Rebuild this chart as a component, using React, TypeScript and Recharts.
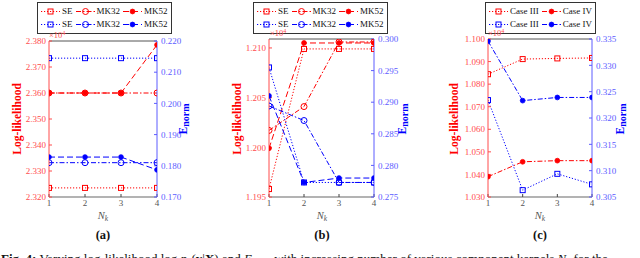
import React from "react";
import { ComposedChart, Line, XAxis, YAxis, ReferenceLine, Legend } from "recharts";

const SERIF = "'Liberation Serif', 'Times New Roman', serif";
const RED = "#ff0000";
const BLUE = "#0000ff";
const RED_AX = "#ff4d4d";
const BLUE_AX = "#5c5cff";

const nk = [1, 2, 3, 4];

// (a)
const aLikSE = [2.3235, 2.3235, 2.3235, 2.3235];
const aLikMK32 = [2.36, 2.36, 2.36, 2.36];
const aLikMK52 = [2.36, 2.36, 2.36, 2.3785];
const aEnSE = [0.2145, 0.2145, 0.2145, 0.2145];
const aEnMK32 = [0.181, 0.181, 0.181, 0.181];
const aEnMK52 = [0.1828, 0.1828, 0.1828, 0.1787];
const aLikTicks = [2.32, 2.33, 2.34, 2.35, 2.36, 2.37, 2.38];
const aEnTicks = [0.17, 0.18, 0.19, 0.2, 0.21, 0.22];

// (b)
const bLikSE = [1.1958, 1.2099, 1.2099, 1.2099];
const bLikMK32 = [1.2017, 1.2041, 1.2106, 1.2106];
const bLikMK52 = [1.1999, 1.2105, 1.2105, 1.2105];
const bEnSE = [0.2955, 0.2773, 0.2773, 0.2773];
const bEnMK32 = [0.2894, 0.2871, 0.2773, 0.2773];
const bEnMK52 = [0.291, 0.2773, 0.278, 0.278];
const bLikTicks = [1.195, 1.2, 1.205, 1.21];
const bEnTicks = [0.275, 0.28, 0.285, 0.29, 0.295, 0.3];

// (c)
const cLikIII = [1.0844, 1.0911, 1.0914, 1.0916];
const cLikIV = [1.039, 1.0456, 1.0461, 1.0461];
const cEnIII = [0.3234, 0.3063, 0.3094, 0.3074];
const cEnIV = [0.3346, 0.3233, 0.3239, 0.3239];
const cLikTicks = [1.03, 1.04, 1.05, 1.06, 1.07, 1.08, 1.09, 1.1];
const cEnTicks = [0.305, 0.31, 0.315, 0.32, 0.325, 0.33, 0.335];

type Marker = "square" | "circle" | "disc";
type Series = { name: string; values: number[]; side: "left" | "right"; dash: string; marker: Marker };

const DOT = "1.2 1.8";
const DASHDOT = "5 2 1.5 2";
const DASH = "6 3";

const colorOf = (s: Series) => (s.side === "left" ? RED : BLUE);

function markerEl(m: Marker, cx: number, cy: number, color: string, key?: any) {
  if (m === "square")
    return <rect key={key} x={cx - 2.5} y={cy - 2.5} width={5} height={5} fill="none" stroke={color} strokeWidth={1} />;
  if (m === "circle")
    return <circle key={key} cx={cx} cy={cy} r={3} fill="none" stroke={color} strokeWidth={1} />;
  return <circle key={key} cx={cx} cy={cy} r={2.4} fill={color} stroke={color} strokeWidth={0.8} />;
}

const makeDot = (m: Marker, color: string) => (p: any) => {
  if (p.cx == null || p.cy == null) return <g key={p.index} />;
  return markerEl(m, p.cx, p.cy, color, p.index);
};

function LegendBox({ series }: { series: Series[] }) {
  const rows = [series.filter((s) => s.side === "left"), series.filter((s) => s.side === "right")];
  return (
    <div
      style={{
        border: "0.8px solid #333",
        background: "#fff",
        padding: "2px 3px",
        fontFamily: SERIF,
        fontSize: 9,
        lineHeight: "13px",
        display: "inline-block",
      }}
    >
      {rows.map((row, ri) => (
        <div key={ri} style={{ display: "flex", alignItems: "center", whiteSpace: "nowrap" }}>
          {row.map((s, i) => (
            <span key={i} style={{ display: "inline-flex", alignItems: "center", marginRight: i < row.length - 1 ? 3 : 0 }}>
              <svg width={19} height={9} style={{ display: "block" }}>
                <line x1={0} y1={4.5} x2={19} y2={4.5} stroke={colorOf(s)} strokeWidth={1} strokeDasharray={s.dash} />
                {markerEl(s.marker, 9.5, 4.5, colorOf(s))}
              </svg>
              <span style={{ marginLeft: 2, color: "#111" }}>{s.name}</span>
            </span>
          ))}
        </div>
      ))}
    </div>
  );
}

type PanelProps = {
  x: number;
  width: number;
  top: number;
  leftW: number;
  series: Series[];
  lDomain: [number, number];
  lTicks: number[];
  rDomain: [number, number];
  rTicks: number[];
  legendLeft: number;
};

function Panel({ x, width, top, leftW, series, lDomain, lTicks, rDomain, rTicks, legendLeft }: PanelProps) {
  const data = nk.map((n, i) => {
    const row: any = { nk: n };
    series.forEach((s, j) => (row["s" + j] = s.values[i]));
    return row;
  });
  const tickFont = { fontSize: 9, fontFamily: SERIF };
  return (
    <div style={{ position: "absolute", left: x, top: 0 }}>
      <ComposedChart width={width} height={230} data={data} margin={{ top, right: 0, left: 0, bottom: 13 }}>
        <XAxis
          dataKey="nk"
          type="number"
          domain={[1, 4]}
          ticks={nk}
          allowDataOverflow
          height={20}
          axisLine={{ stroke: "#9a9a9a", strokeWidth: 1.6 }}
          tickLine={{ stroke: "#444" }}
          tickSize={-3}
          tickMargin={6}
          tick={{ ...tickFont, fill: "#555" }}
        />
        <YAxis
          yAxisId="left"
          type="number"
          domain={lDomain}
          ticks={lTicks}
          allowDataOverflow
          width={leftW}
          axisLine={{ stroke: RED_AX }}
          tickLine={{ stroke: RED_AX }}
          tickSize={-3}
          tickMargin={6}
          tick={{ ...tickFont, fill: RED_AX }}
          tickFormatter={(v: number) => v.toFixed(3)}
        />
        <YAxis
          yAxisId="right"
          orientation="right"
          type="number"
          domain={rDomain}
          ticks={rTicks}
          allowDataOverflow
          width={45}
          axisLine={{ stroke: BLUE_AX }}
          tickLine={{ stroke: BLUE_AX }}
          tickSize={-3}
          tickMargin={7}
          tick={{ ...tickFont, fill: BLUE_AX }}
          tickFormatter={(v: number) => v.toFixed(3)}
        />
        <ReferenceLine yAxisId="left" y={lDomain[1]} stroke="#555" strokeWidth={1} ifOverflow="visible" />
        {series.map((s, j) => (
          <Line
            key={j}
            yAxisId={s.side}
            dataKey={"s" + j}
            name={s.name}
            stroke={colorOf(s)}
            strokeWidth={1}
            strokeDasharray={s.dash}
            dot={makeDot(s.marker, colorOf(s))}
            activeDot={false}
            isAnimationActive={false}
          />
        ))}
        <Legend
          verticalAlign="middle"
          align="center"
          layout="horizontal"
          wrapperStyle={{ position: "absolute", top: 2, left: legendLeft, width: "auto", height: "auto" }}
          content={() => <LegendBox series={series} />}
        />
      </ComposedChart>
    </div>
  );
}

const seriesA: Series[] = [
  { name: "SE", values: aLikSE, side: "left", dash: DOT, marker: "square" },
  { name: "MK32", values: aLikMK32, side: "left", dash: DASHDOT, marker: "circle" },
  { name: "MK52", values: aLikMK52, side: "left", dash: DASH, marker: "disc" },
  { name: "SE", values: aEnSE, side: "right", dash: DOT, marker: "square" },
  { name: "MK32", values: aEnMK32, side: "right", dash: DASHDOT, marker: "circle" },
  { name: "MK52", values: aEnMK52, side: "right", dash: DASH, marker: "disc" },
];
const seriesB: Series[] = [
  { name: "SE", values: bLikSE, side: "left", dash: DOT, marker: "square" },
  { name: "MK32", values: bLikMK32, side: "left", dash: DASHDOT, marker: "circle" },
  { name: "MK52", values: bLikMK52, side: "left", dash: DASH, marker: "disc" },
  { name: "SE", values: bEnSE, side: "right", dash: DOT, marker: "square" },
  { name: "MK32", values: bEnMK32, side: "right", dash: DASHDOT, marker: "circle" },
  { name: "MK52", values: bEnMK52, side: "right", dash: DASH, marker: "disc" },
];
const seriesC: Series[] = [
  { name: "Case III", values: cLikIII, side: "left", dash: DOT, marker: "square" },
  { name: "Case IV", values: cLikIV, side: "left", dash: DASHDOT, marker: "disc" },
  { name: "Case III", values: cEnIII, side: "right", dash: DOT, marker: "square" },
  { name: "Case IV", values: cEnIV, side: "right", dash: DASHDOT, marker: "disc" },
];

function AxisTitles({ llx, enx, nx, tenx, teny, cap }: { llx: number; enx: number; nx: number; tenx: number; teny: number; cap: string }) {
  return (
    <g>
      <text transform={`translate(${llx},119) rotate(-90)`} textAnchor="middle" fill={RED} fontWeight="bold" fontSize={11.5}>
        Log-likelihood
      </text>
      <text transform={`translate(${enx},119) rotate(-90)`} textAnchor="middle" fill={BLUE} fontWeight="bold" fontSize={11.5}>
        E<tspan fontSize={10} dy={1.5}>norm</tspan>
      </text>
      <text x={tenx} y={teny} fill={RED_AX} fontSize={8.5}>
        ×10<tspan fontSize={6} dy={-3.5}>4</tspan>
      </text>
      <text x={nx} y={219} textAnchor="middle" fill="#555" fontSize={10.5} fontStyle="italic">
        N<tspan fontSize={7.5} dy={2}>k</tspan>
      </text>
      <text x={nx} y={239} textAnchor="middle" fill="#111" fontSize={12.5} fontWeight="bold">
        {cap}
      </text>
    </g>
  );
}

export default function App() {
  return (
    <div style={{ position: "relative", width: 640, height: 258, overflow: "hidden", background: "#fff", fontFamily: SERIF }}>
      <style>{"body{margin:0}"}</style>
      <Panel x={0} width={202} top={41} leftW={49} series={seriesA} lDomain={[2.32, 2.38]} lTicks={aLikTicks} rDomain={[0.17, 0.22]} rTicks={aEnTicks} legendLeft={37} />
      <Panel x={215} width={204} top={39} leftW={54} series={seriesB} lDomain={[1.195, 1.2109]} lTicks={bLikTicks} rDomain={[0.275, 0.3]} rTicks={bEnTicks} legendLeft={38} />
      <Panel x={430} width={207} top={39} leftW={58} series={seriesC} lDomain={[1.03, 1.1]} lTicks={cLikTicks} rDomain={[0.305, 0.335]} rTicks={cEnTicks} legendLeft={55} />
      <svg width={640} height={258} style={{ position: "absolute", left: 0, top: 0, pointerEvents: "none", fontFamily: SERIF }}>
        <AxisTitles llx={21} enx={187} nx={103} tenx={49} teny={38} cap="(a)" />
        <AxisTitles llx={241} enx={406} nx={322} tenx={270} teny={36} cap="(b)" />
        <AxisTitles llx={458} enx={624} nx={540} tenx={488} teny={36} cap="(c)" />
        <text x={1} y={263} fontSize={13} fill="#111">
          <tspan fontWeight="bold">Fig. 4:</tspan> Varying log-likelihood log <tspan fontStyle="italic">p</tspan>
          <tspan fontSize={9} dy={2} fontStyle="italic">θ</tspan>
          <tspan dy={-2}>(</tspan>
          <tspan fontWeight="bold">y</tspan>|<tspan fontWeight="bold">X</tspan>) and <tspan fontStyle="italic">E</tspan>
          <tspan fontSize={9} dy={2}>norm</tspan>
          <tspan dy={-2}> with increasing number of various component kernels </tspan>
          <tspan fontStyle="italic">N</tspan>
          <tspan fontSize={9} dy={2} fontStyle="italic">k</tspan>
          <tspan dy={-2}> for the</tspan>
        </text>
      </svg>
    </div>
  );
}
